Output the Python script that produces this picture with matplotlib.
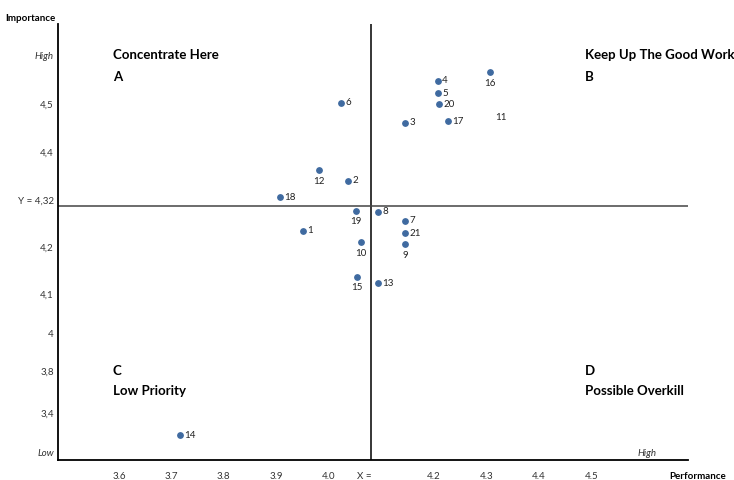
import matplotlib.pyplot as plt

# item numbers with performance (x) and importance (y)
items = [1, 2, 3, 4, 5, 6, 7, 8, 9, 10, 11, 12, 13, 14, 15, 16, 17, 18, 19, 20, 21]
perf = [3.950, 4.037, 4.146, 4.208, 4.209, 4.023, 4.145, 4.094, 4.146, 4.061, 4.305,
        3.982, 4.094, 3.717, 4.054, 4.307, 4.227, 3.907, 4.051, 4.210, 4.146]
imp = [4.231, 4.336, 4.458, 4.547, 4.520, 4.500, 4.252, 4.271, 4.203, 4.206, 4.471,
       4.359, 4.120, 3.800, 4.134, 4.565, 4.461, 4.301, 4.273, 4.497, 4.225]
label_pos = ["r", "r", "r", "r", "r", "r", "r", "r", "b", "b", "t",
             "b", "r", "r", "b", "b", "r", "r", "b", "r", "r"]

x_mean = 4.081
y_mean = 4.283

xtick_vals = [3.6, 3.7, 3.8, 3.9, 4.0, 4.068, 4.2, 4.3, 4.4, 4.5]
xtick_labels = ["3.6", "3.7", "3.8", "3.9", "4.0", "X =", "4.2", "4.3", "4.4", "4.5"]
ytick_vals = [4.602, 4.5, 4.399, 4.298, 4.199, 4.100, 4.017, 3.938, 3.849, 3.765]
ytick_labels = ["High", "4,5", "4,4", "Y = 4,32", "4,2", "4,1", "4", "3,8", "3,4", "Low"]

plt.rcParams["font.family"] = ["Lato", "DejaVu Sans"]

fig = plt.figure(figsize=(7.34, 4.81), dpi=100)
ax = fig.add_axes([0.079, 0.0416, 0.858, 0.9064])
ax.set_xlim(3.484, 4.684)
ax.set_ylim(3.748, 4.666)

dot = "#3f6aa0"
for n, x, y, p in zip(items, perf, imp, label_pos):
    if p == "t":
        # point 11 shows only its label in the original
        ax.text(x + 0.012, y, str(n), fontsize=7, va="center", ha="left", color="#222222")
        continue
    ax.scatter(x, y, s=15, color=dot, zorder=3)
    if p == "r":
        ax.text(x + 0.008, y + 0.002, str(n), fontsize=7, va="center", ha="left", color="#222222")
    else:
        ax.text(x, y - 0.012, str(n), fontsize=7, va="top", ha="center", color="#222222")

ax.axvline(x_mean, color="black", lw=1.1)
ax.axhline(y_mean, color="#444444", lw=1.1)

for s in ["top", "right"]:
    ax.spines[s].set_visible(False)
ax.spines["left"].set_linewidth(1.3)
ax.spines["bottom"].set_linewidth(1.3)

ax.set_xticks(xtick_vals)
ax.set_xticklabels(xtick_labels, fontsize=7, color="#333333")
ax.set_yticks(ytick_vals)
ax.set_yticklabels(ytick_labels, fontsize=7, color="#333333")
ax.get_yticklabels()[0].set_style("italic")
ax.get_yticklabels()[-1].set_style("italic")
ax.tick_params(length=0, pad=8)
ax.tick_params(axis="y", pad=3)

# quadrant captions
qs = dict(fontsize=9.5, fontweight="bold", ha="left", va="center", transform=ax.transAxes)
ax.text(0.087, 0.931, "Concentrate Here", **qs)
ax.text(0.087, 0.880, "A", **qs)
ax.text(0.837, 0.931, "Keep Up The Good Work", **qs)
ax.text(0.837, 0.880, "B", **qs)
ax.text(0.087, 0.206, "C", **qs)
ax.text(0.087, 0.161, "Low Priority", **qs)
ax.text(0.837, 0.206, "D", **qs)
ax.text(0.837, 0.161, "Possible Overkill", **qs)

ax.text(0.935, 0.018, "High", fontsize=7, style="italic", ha="center", va="center",
        transform=ax.transAxes, color="#333333")
fig.text(0.007, 0.962, "Importance", fontsize=7, fontweight="bold", ha="left", va="center")
fig.text(0.951, 0.009, "Performance", fontsize=7, fontweight="bold", ha="center", va="center")

fig.savefig("out.png", dpi=100)
